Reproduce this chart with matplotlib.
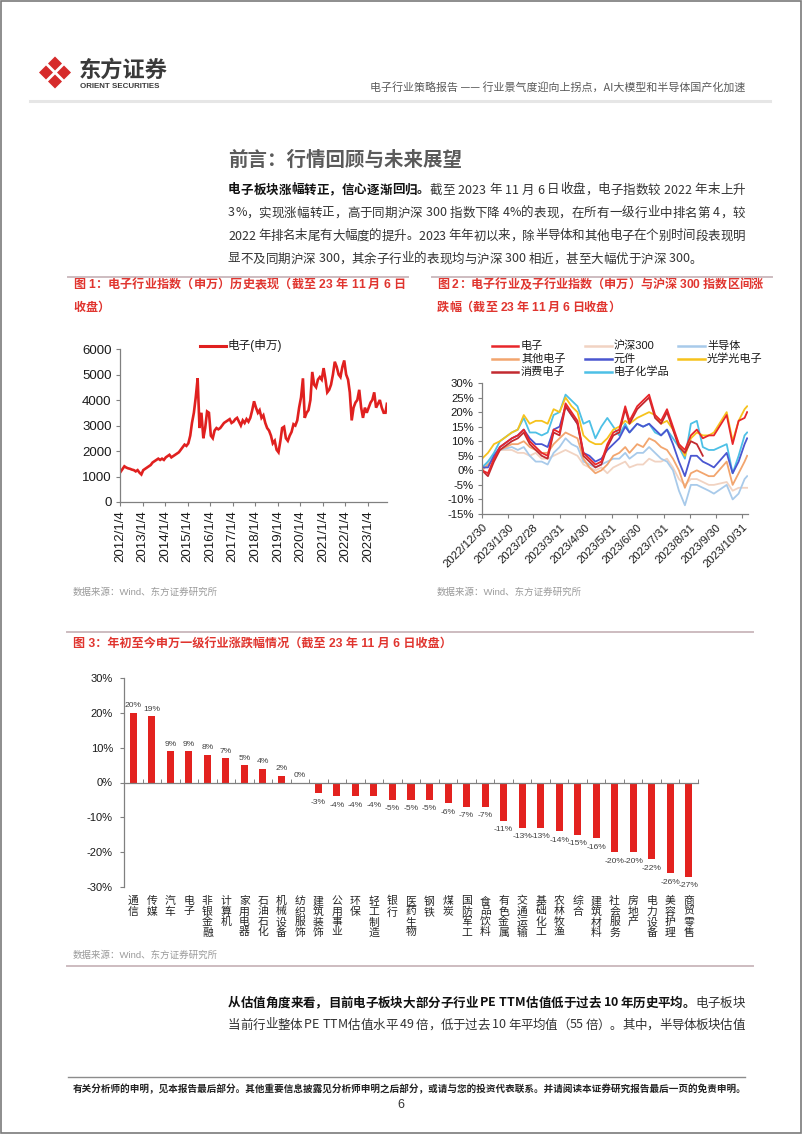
import matplotlib
matplotlib.use('Agg')
import matplotlib.pyplot as plt
from matplotlib.patches import Polygon, Rectangle
from matplotlib.lines import Line2D
import numpy as np
import pandas as pd

plt.rcParams['font.family'] = ['Liberation Sans', 'Noto Sans CJK SC', 'DejaVu Sans']
plt.rcParams['axes.unicode_minus'] = False
CJK = ['Noto Sans CJK SC', 'DejaVu Sans']

# ------------------------------------------------------------------ data
# Fig 1: SW electronics index, monthly readings
y2012 = [1150, 1300, 1400, 1350, 1320, 1300, 1270, 1250, 1200, 1250, 1150, 1080]
y2013 = [1250, 1300, 1350, 1400, 1450, 1550, 1600, 1650, 1700, 1650, 1700, 1650]
y2014 = [1750, 1800, 1850, 1750, 1800, 1850, 1900, 1950, 2050, 2150, 2250, 2200]
y2015 = [2300, 2600, 3100, 3500, 4100, 4850, 2900, 3500, 2500, 2900, 3550, 3500]
y2016 = [2600, 2500, 2800, 2900, 2850, 2900, 3000, 3100, 3150, 3200, 3250, 3100]
y2017 = [3150, 3250, 3300, 3150, 3000, 3200, 3100, 3250, 3150, 3300, 3600, 3950]
y2018 = [3700, 3500, 3600, 3300, 3400, 3100, 2900, 2800, 2600, 2300, 2400, 2050]
y2019 = [1950, 2400, 2900, 2950, 2500, 2400, 2600, 2750, 3050, 3000, 3200, 3700]
y2020 = [4100, 4850, 3300, 3500, 3600, 4000, 5100, 4600, 4500, 4800, 4900, 4800]
y2021 = [5250, 4800, 4300, 4400, 4600, 5000, 5500, 5300, 5000, 4900, 5300, 5550]
y2022 = [5000, 4800, 4300, 3200, 3700, 3900, 4000, 4400, 3700, 3300, 3700, 3500]
y2023 = [3700, 3900, 4000, 4300, 3700, 3850, 4000, 3700, 3500, 3500, 3850]
ticks1 = ['2012/1/4', '2013/1/4', '2014/1/4', '2015/1/4', '2016/1/4', '2017/1/4',
          '2018/1/4', '2019/1/4', '2020/1/4', '2021/1/4', '2022/1/4', '2023/1/4']

# Fig 2: weekly interval change (%)
dates2 = ['2022-12-30', '2023-01-06', '2023-01-13', '2023-01-20', '2023-02-03', '2023-02-10',
          '2023-02-17', '2023-02-24', '2023-03-03', '2023-03-10', '2023-03-17', '2023-03-24',
          '2023-03-31', '2023-04-07', '2023-04-14', '2023-04-21', '2023-04-28', '2023-05-05',
          '2023-05-12', '2023-05-19', '2023-05-26', '2023-06-02', '2023-06-09', '2023-06-16',
          '2023-06-21', '2023-06-30', '2023-07-07', '2023-07-14', '2023-07-21', '2023-07-28',
          '2023-08-04', '2023-08-11', '2023-08-18', '2023-08-25', '2023-09-01', '2023-09-08',
          '2023-09-15', '2023-09-22', '2023-09-28', '2023-10-13', '2023-10-20', '2023-10-27',
          '2023-11-03', '2023-11-06']
dianzi = [0, -1, 4, 8, 11, 12, 14, 10, 8, 6, 5, 14, 13, 23, 20, 17, 6, 4, 2, 3, 9, 13, 14, 22,
          17, 22, 24, 26, 19, 17, 21, 15, 9, 7, 12, 14, 11, 12, 12, 19, 9, 17, 18, 20]
hs300 = [0, 2, 5, 7, 7, 6, 6, 5, 6, 4, 4, 5, 6, 7, 6, 5, 2, 1, 0, 1, -1, 1, 2, 3,
         1, 2, 2, 4, 3, 3, 4, 1, -3, -5, -3, -3, -4, -5, -5, -4, -7, -6, -6, -6]
bandaoti = [0, 3, 5, 7, 8, 7, 8, 5, 3, 3, 2, 6, 8, 11, 9, 8, 3, 2, 1, 2, 3, 4, 4, 6,
            4, 6, 6, 8, 6, 4, 3, 0, -7, -12, -5, -5, -6, -7, -8, -5, -10, -8, -3, -2]
qita = [0, 2, 4, 7, 9, 9, 10, 8, 7, 6, 6, 9, 11, 13, 12, 11, 4, 1, -1, 0, 2, 5, 6, 8,
        6, 9, 8, 11, 10, 8, 7, 4, 0, -6, -1, 0, -1, -2, -2, 3, -5, -1, 3, 5]
yuanjian = [1, 1, 5, 8, 11, 12, 14, 11, 9, 9, 8, 14, 15, 22, 19, 16, 6, 5, 3, 4, 7, 9, 11, 15,
            13, 16, 15, 16, 14, 12, 14, 9, 3, -2, 5, 5, 3, 2, 1, 6, -1, 3, 9, 11]
guangxue = [4, 6, 9, 10, 13, 14, 19, 16, 17, 17, 16, 21, 20, 25, 22, 20, 12, 10, 9, 9, 11, 14, 15, 17,
            16, 18, 19, 20, 19, 16, 17, 14, 9, 5, 11, 13, 12, 12, 13, 20, 10, 17, 21, 22]
xiaofei = [0, -2, 3, 7, 10, 11, 13, 9, 7, 5, 4, 13, 12, 22, 19, 16, 5, 3, 1, 2, 8, 12, 13, 21,
           16, 21, 23, 25, 18, 16, 20, 14, 8, 6, 10, 9, 5,
           np.nan, np.nan, np.nan, np.nan, np.nan, np.nan, np.nan]
huaxue = [1, 3, 6, 10, 13, 14, 18, 13, 13, 12, 13, 19, 20, 26, 24, 22, 16, 17, 11, 15, 18, 15, 12, 16,
          13, 16, 15, 16, 13, 12, 14, 11, 8, 4, 16, 17, 8, 7, 7, 9, -1, 5, 12, 13]
ticks2 = ['2022/12/30', '2023/1/30', '2023/2/28', '2023/3/31', '2023/4/30', '2023/5/31',
          '2023/6/30', '2023/7/31', '2023/8/31', '2023/9/30', '2023/10/31']

# Fig 3: YTD change of SW level-1 industries (%)
industries = ['通信', '传媒', '汽车', '电子', '非银金融', '计算机', '家用电器', '石油石化', '机械设备',
              '纺织服饰', '建筑装饰', '公用事业', '环保', '轻工制造', '银行', '医药生物', '钢铁',
              '煤炭', '国防军工', '食品饮料', '有色金属', '交通运输', '基础化工', '农林牧渔', '综合',
              '建筑材料', '社会服务', '房地产', '电力设备', '美容护理', '商贸零售']
ytd_chg = [20, 19, 9, 9, 8, 7, 5, 4, 2, 0, -3, -4, -4, -4, -5, -5, -5, -6, -7, -7,
           -11, -13, -13, -14, -15, -16, -20, -20, -22, -26, -27]

# ------------------------------------------------------------------ figure
W, H = 802, 1134
fig = plt.figure(figsize=(W / 100, H / 100), dpi=100)
fig.patch.set_facecolor('white')


def fx(x):
    return x / W


def fy(y):
    return 1 - y / H


def T(x, y, s, **kw):
    kw.setdefault('va', 'center')
    return fig.text(fx(x), fy(y), s, **kw)


def add_ax(l, t, r, b):
    return fig.add_axes([fx(l), fy(b), (r - l) / W, (b - t) / H])


def hline(x0, x1, y, color, lw):
    fig.add_artist(Line2D([fx(x0), fx(x1)], [fy(y), fy(y)], color=color, lw=lw,
                          transform=fig.transFigure))


def cwidth(ch):
    o = ord(ch)
    if o >= 0x2E80 or ch in '，。：（）、；—':
        return 1.0
    if ch == ' ':
        return 0.23
    if ch.isdigit():
        return 0.555
    if ch == '%':
        return 0.87
    if ch in '.,:;':
        return 0.28
    if ch == '/':
        return 0.33
    if ch.isupper():
        return 0.64
    return 0.5


def draw_chars(x0, y, segs, size, x1=None, family=CJK):
    em = size * 100 / 72
    chars = [(ch, w, c) for s, w, c in segs for ch in s]
    widths = [cwidth(ch) * em for ch, _, _ in chars]
    extra = 0
    if x1 is not None and len(chars) > 1:
        extra = (x1 - x0 - sum(widths)) / (len(chars) - 1)
    x = x0
    for (ch, w, c), wd in zip(chars, widths):
        if ch != ' ':
            fig.text(fx(x), fy(y), ch, fontsize=size, fontweight=w, color=c,
                     va='center', ha='left', family=family)
        x += wd + extra


# page border
fig.add_artist(Rectangle((0.6 / W, 0.6 / H), (W - 1.2) / W, (H - 1.2) / H,
                         transform=fig.transFigure, fill=False, edgecolor='#7a7a7a', lw=1.2))

# ---- header
logo_red = '#d62b2b'
for cx, cy in [(46, 72.5), (64, 72.5), (55, 63.5), (55, 81.5)]:
    h = 8.2
    pts = [(fx(cx - h), fy(cy)), (fx(cx), fy(cy - h)), (fx(cx + h), fy(cy)), (fx(cx), fy(cy + h))]
    fig.add_artist(Polygon(pts, closed=True, transform=fig.transFigure,
                           facecolor=logo_red, edgecolor='white', lw=1.2))
T(79, 70, '东方证券', fontsize=16, fontweight='bold', color='#3a3a3a', family=CJK)
T(80, 86.5, 'ORIENT SECURITIES', fontsize=5.7, fontweight='bold', color='#3a3a3a',
  family=['Liberation Sans'])
T(745, 87, '电子行业策略报告 —— 行业景气度迎向上拐点，AI大模型和半导体国产化加速',
  fontsize=7.9, color='#5a5a5a', ha='right', family=CJK)
hline(30, 770, 101, '#e6e6e6', 2.2)

# ---- section title and paragraph
T(228, 160, '前言：行情回顾与未来展望', fontsize=14, fontweight='bold', color='#5b5b5b', family=CJK)
P = 9.0
dark = '#111111'
body = '#333333'
draw_chars(228, 190, [('电子板块涨幅转正，信心逐渐回归。', 'bold', dark),
                      ('截至 2023 年 11 月 6 日收盘，电子指数较 2022 年末上升', 'normal', body)], P, 745)
draw_chars(228, 213, [('3%，实现涨幅转正，高于同期沪深 300 指数下降 4%的表现，在所有一级行业中排名第 4，较',
                       'normal', body)], P, 745)
draw_chars(228, 236, [('2022 年排名末尾有大幅度的提升。2023 年年初以来，除半导体和其他电子在个别时间段表现明',
                       'normal', body)], P, 745)
draw_chars(228, 259, [('显不及同期沪深 300，其余子行业的表现均与沪深 300 相近，甚至大幅优于沪深 300。',
                       'normal', body)], P)

# ---- chart titles and separators
red_t = '#e0352f'
sep = '#cdbcc0'
hline(68, 408, 277, sep, 1.4)
hline(432, 772, 277, sep, 1.4)
draw_chars(73, 285, [('图 1：电子行业指数（申万）历史表现（截至 23 年 11 月 6 日', 'bold', red_t)], 8.7, 405,
           family=['Liberation Sans', 'Noto Sans CJK SC'])
draw_chars(73, 308, [('收盘）', 'bold', red_t)], 8.7, family=['Liberation Sans', 'Noto Sans CJK SC'])
draw_chars(437, 285, [('图 2：电子行业及子行业指数（申万）与沪深 300 指数区间涨', 'bold', red_t)], 8.7, 763,
           family=['Liberation Sans', 'Noto Sans CJK SC'])
draw_chars(437, 308, [('跌幅（截至 23 年 11 月 6 日收盘）', 'bold', red_t)], 8.7,
           family=['Liberation Sans', 'Noto Sans CJK SC'])

src = '数据来源：Wind、东方证券研究所'
T(73, 592, src, fontsize=6.8, color='#9a9a9a')
T(437, 592, src, fontsize=6.8, color='#9a9a9a')

spine_c = '#808080'
tick_c = '#1a1a1a'

# ---- chart 1
ax1 = add_ax(120, 349, 387, 502)
vals1 = y2012 + y2013 + y2014 + y2015 + y2016 + y2017 + y2018 + y2019 + y2020 + y2021 + y2022 + y2023
months1 = pd.date_range('2012-01-01', periods=len(vals1), freq='MS') + pd.Timedelta(days=14)
dates1 = list(months1)
dates1[0] = pd.Timestamp('2012-01-04')
dates1[-1] = pd.Timestamp('2023-11-06')
ax1.plot(dates1, vals1, color='#e0201f', lw=1.9, solid_joinstyle='miter')
ax1.set_ylim(0, 6000)
ax1.set_yticks(range(0, 6001, 1000))
ax1.set_yticklabels([str(v) for v in range(0, 6001, 1000)])
ax1.set_xlim(pd.Timestamp('2012-01-04'), pd.Timestamp('2023-11-08'))
ax1.set_xticks(pd.to_datetime(ticks1, format='%Y/%m/%d'))
ax1.set_xticklabels(ticks1, rotation=90)
for s in ['top', 'right']:
    ax1.spines[s].set_visible(False)
for s in ['left', 'bottom']:
    ax1.spines[s].set_color(spine_c)
    ax1.spines[s].set_linewidth(0.9)
ax1.tick_params(axis='both', colors=spine_c, labelcolor=tick_c, labelsize=9.5, length=3, width=0.8)
ax1.tick_params(axis='y', pad=3)
ax1.tick_params(axis='x', pad=3)
fig.add_artist(Line2D([fx(200), fx(226)], [fy(346), fy(346)], color='#e0201f', lw=2.2,
                      transform=fig.transFigure))
T(228, 346, '电子(申万)', fontsize=8.4, color=tick_c)

# ---- chart 2
ax2 = add_ax(482, 383, 748, 514)
d2 = pd.to_datetime(dates2)
series2 = [
    ('电子', dianzi, '#e8262a'),
    ('沪深300', hs300, '#f1d3c2'),
    ('半导体', bandaoti, '#a8caea'),
    ('其他电子', qita, '#f2a56e'),
    ('元件', yuanjian, '#4a56d0'),
    ('光学光电子', guangxue, '#f6c21c'),
    ('消费电子', xiaofei, '#c22a30'),
    ('电子化学品', huaxue, '#4dc0e6'),
]
draw_order = ['沪深300', '半导体', '其他电子', '电子化学品', '光学光电子', '元件', '消费电子', '电子']
lookup = {n: (v, c) for n, v, c in series2}
for n in draw_order:
    v, c = lookup[n]
    ax2.plot(d2, v, color=c, lw=1.3)
ax2.set_ylim(-15, 30)
ax2.set_yticks(range(-15, 31, 5))
ax2.set_yticklabels([f'{v}%' for v in range(-15, 31, 5)])
ax2.set_xlim(pd.Timestamp('2022-12-30'), pd.Timestamp('2023-11-07'))
ax2.set_xticks(pd.to_datetime(ticks2, format='%Y/%m/%d'))
ax2.set_xticklabels(ticks2, rotation=45, ha='right', rotation_mode='anchor')
for s in ['top', 'right']:
    ax2.spines[s].set_visible(False)
for s in ['left', 'bottom']:
    ax2.spines[s].set_color(spine_c)
    ax2.spines[s].set_linewidth(0.9)
ax2.tick_params(axis='both', colors=spine_c, labelcolor=tick_c, length=3, width=0.8)
ax2.tick_params(axis='y', labelsize=8.2, pad=3)
ax2.tick_params(axis='x', labelsize=8.2, pad=3)
cols = [(492, 518, 521), (585, 612, 614), (678, 705, 707)]
rows = [346, 359, 372]
for k, (n, v, c) in enumerate(series2):
    r, cidx = divmod(k, 3)
    lx0, lx1, tx = cols[cidx]
    yy = rows[r]
    fig.add_artist(Line2D([fx(lx0), fx(lx1)], [fy(yy), fy(yy)], color=c, lw=1.8,
                          transform=fig.transFigure))
    T(tx, yy, n, fontsize=8, color=tick_c)

# ---- chart 3
hline(67, 753, 632, sep, 1.4)
T(73, 645, '图 3：年初至今申万一级行业涨跌幅情况（截至 23 年 11 月 6 日收盘）', fontsize=8.7,
  fontweight='bold', color=red_t)
ax3 = add_ax(124, 678, 698, 887)
x3 = np.arange(len(industries))
ax3.bar(x3, ytd_chg, width=0.38, color='#e3221f', zorder=2)
ax3.set_xlim(-0.5, len(industries) - 0.5)
ax3.set_ylim(-30, 30)
ax3.spines['bottom'].set_position(('data', 0))
for s in ['top', 'right']:
    ax3.spines[s].set_visible(False)
for s in ['left', 'bottom']:
    ax3.spines[s].set_color(spine_c)
    ax3.spines[s].set_linewidth(0.9)
ax3.set_xticks(np.arange(len(industries) + 1) - 0.5)
ax3.tick_params(axis='x', direction='in', length=3, width=0.7, colors=spine_c, labelbottom=False)
ax3.set_yticks(range(-30, 31, 10))
ax3.set_yticklabels([f'{v}%' for v in range(-30, 31, 10)])
ax3.tick_params(axis='y', direction='out', length=3, width=0.8, colors=spine_c, labelcolor=tick_c,
                labelsize=8, pad=5)
for i, (name, v) in enumerate(zip(industries, ytd_chg)):
    ax3.text(i, -32.6, '\n'.join(name), ha='center', va='top', fontsize=7.8, linespacing=1.05,
             family=CJK, color='#262626')
    if v >= 0:
        ax3.text(i, v + 1.0, f'{v}%', ha='center', va='bottom', fontsize=6.1, color='#404040')
    else:
        ax3.text(i, v - 1.6, f'{v}%', ha='center', va='top', fontsize=6.1, color='#404040')
T(73, 955, src, fontsize=6.8, color='#9a9a9a')
hline(67, 753, 966, sep, 1.4)

# ---- bottom paragraph and footer
draw_chars(228, 1003, [('从估值角度来看，目前电子板块大部分子行业 PE TTM 估值低于过去 10 年历史平均。', 'bold', dark),
                       ('电子板块', 'normal', body)], P, 745)
draw_chars(228, 1025, [('当前行业整体 PE TTM 估值水平 49 倍，低于过去 10 年平均值（55 倍）。其中，半导体板块估值',
                        'normal', body)], P, 745)
hline(68, 745, 1077, '#8c8c8c', 1.0)
T(73, 1089, '有关分析师的申明，见本报告最后部分。其他重要信息披露见分析师申明之后部分，或请与您的投资代表联系。并请阅读本证券研究报告最后一页的免责申明。',
  fontsize=6.9, fontweight='bold', color='#222222', family=CJK)
T(401, 1105, '6', fontsize=9, color='#333333', ha='center')

fig.savefig('out.png', dpi=100)
